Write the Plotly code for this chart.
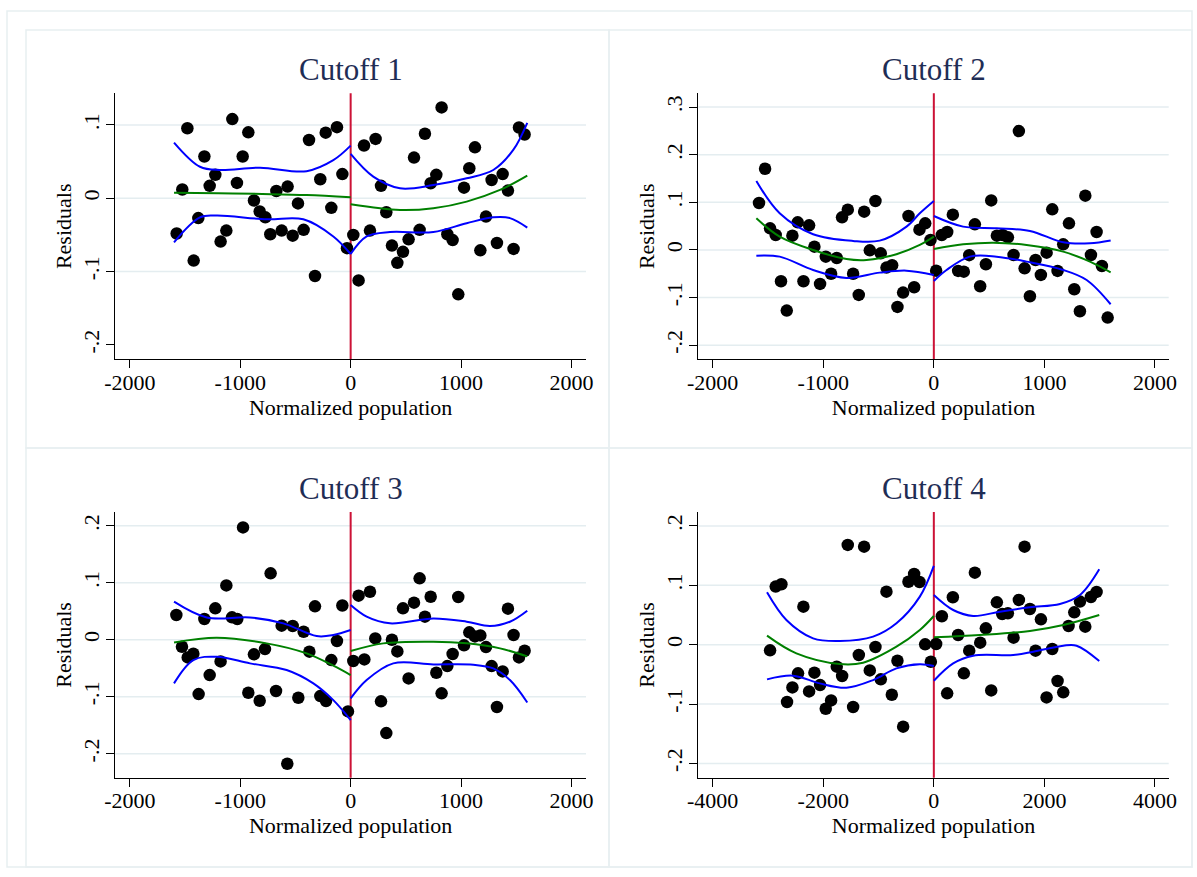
import plotly.graph_objects as go

# ---------------- data ----------------
titles = ["Cutoff 1", "Cutoff 2", "Cutoff 3", "Cutoff 4"]
x_title = "Normalized population"
y_title = "Residuals"

# Panel 1 (Cutoff 1)
p1_x = [-1576, -1525, -1479, -1422, -1380, -1325, -1277, -1226, -1178, -1126, -1072, -1030, -978, -927,
        -876, -824, -773, -728, -673, -625, -571, -525, -477, -426, -377, -323, -275, -226, -175, -124,
        -75, -33, 24, 72, 121, 175, 226, 275, 323, 374, 423, 474, 525, 574, 625, 673, 725, 776, 824,
        876, 924, 975, 1027, 1075, 1126, 1175, 1226, 1277, 1325, 1377, 1425, 1476, 1525, 1576]
p1_y = [-0.048, 0.012, 0.0955, -0.085, -0.027, 0.057, 0.017, 0.032, -0.059, -0.044, 0.108, 0.021, 0.057, 0.090,
        -0.003, -0.018, -0.026, -0.049, 0.010, -0.044, 0.016, -0.051, -0.007, -0.043, 0.0795, -0.106, 0.026, 0.0895, -0.013, 0.097,
        0.033, -0.068, -0.050, -0.112, 0.072, -0.044, 0.081, 0.017, -0.019, -0.0645, -0.088, -0.073, -0.056, 0.0555, -0.043, 0.088, 0.0205, 0.032, 0.124,
        -0.049, -0.057, -0.131, 0.0145, 0.041, 0.0695, -0.071, -0.025, 0.025, -0.061, 0.033, 0.0105, -0.069, 0.0965, 0.087]
p1_fit_L = [(-1600, 0.0077), (-1200, 0.0068), (-800, 0.0059), (-400, 0.0045), (0, 0.0014)]
p1_fit_R = [(0, -0.0082), (447, -0.016), (749, -0.0136), (1051, -0.0045), (1353, 0.0114), (1600, 0.031)]
p1_up_L = [(-1600, 0.076), (-1365, 0.043), (-1184, 0.0386), (-821, 0.0418), (-399, 0.037), (-157, 0.052), (0, 0.0718)]
p1_lo_L = [(-1600, -0.060), (-1365, -0.026), (-1214, -0.0236), (-761, -0.0286), (-429, -0.0286), (-157, -0.052), (0, -0.076)]
p1_up_R = [(0, 0.0605), (205, 0.0295), (447, 0.0136), (749, 0.018), (1051, 0.0273), (1292, 0.0386), (1473, 0.066), (1600, 0.103)]
p1_lo_R = [(0, -0.076), (145, -0.052), (356, -0.046), (749, -0.046), (1051, -0.034), (1292, -0.026), (1443, -0.027), (1600, -0.040)]

# Panel 2 (Cutoff 2)
p2_x = [-1581, -1526, -1481, -1430, -1382, -1330, -1279, -1231, -1179, -1128, -1080, -1029, -977, -929,
        -878, -830, -778, -730, -679, -630, -579, -528, -480, -428, -377, -329, -278, -229, -178, -130,
        -78, -30, 21, 72, 121, 172, 220, 271, 320, 371, 419, 471, 519, 570, 621, 670, 721, 769, 821,
        869, 920, 968, 1020, 1071, 1119, 1170, 1222, 1270, 1321, 1370, 1421, 1472, 1520, 1572]
p2_y = [0.0986, 0.1706, 0.0455, 0.0315, -0.0657, -0.1273, 0.030, 0.058, -0.0657, 0.0517, 0.007, -0.0713, -0.014, -0.050,
        -0.0168, 0.0685, 0.0846, -0.050, -0.0944, 0.0804, -0.0007, 0.1028, -0.007, -0.037, -0.032, -0.1196, -0.0895, 0.0713, -0.0783, 0.0427,
        0.056, 0.021, -0.0434, 0.0315, 0.0378, 0.0741, -0.044, -0.0455, -0.011, 0.0538, -0.0762, -0.030, 0.104, 0.030, 0.0315, 0.0266, -0.0105, 0.2497, -0.0385,
        -0.0972, -0.021, -0.0524, -0.0056, 0.0853, -0.044, 0.0119, 0.056, -0.0825, -0.1287, 0.114, -0.0105, 0.0378, -0.0336, -0.142]
p2_fit_L = [(-1605, 0.0664), (-1394, 0.028), (-1092, 0.0), (-790, -0.019), (-609, -0.021), (-338, -0.009), (-127, 0.0105), (0, 0.028)]
p2_fit_R = [(0, 0.002), (265, 0.0119), (537, 0.0154), (839, 0.0105), (1170, -0.0035), (1412, -0.0245), (1599, -0.047)]
p2_up_L = [(-1605, 0.1448), (-1394, 0.077), (-1092, 0.033), (-730, 0.019), (-489, 0.0196), (-247, 0.049), (-127, 0.077), (0, 0.1028)]
p2_lo_L = [(-1605, -0.0119), (-1394, -0.014), (-1092, -0.042), (-790, -0.0587), (-489, -0.0476), (-247, -0.0434), (0, -0.0524)]
p2_up_R = [(0, 0.0713), (265, 0.049), (567, 0.0455), (869, 0.040), (1170, 0.016), (1412, 0.014), (1599, 0.020)]
p2_lo_R = [(0, -0.065), (115, -0.042), (326, -0.014), (567, -0.014), (839, -0.0245), (1170, -0.042), (1382, -0.063), (1599, -0.114)]

# Panel 3 (Cutoff 3)
p3_x = [-1579, -1528, -1476, -1425, -1377, -1325, -1277, -1226, -1178, -1126, -1075, -1027, -975, -927,
        -876, -824, -776, -725, -676, -625, -574, -525, -474, -426, -374, -323, -275, -223, -175, -124,
        -75, -24, 24, 72, 124, 175, 223, 275, 323, 374, 423, 474, 525, 574, 625, 673, 725, 776, 824,
        876, 924, 975, 1027, 1075, 1126, 1175, 1226, 1277, 1325, 1377, 1425, 1476, 1525, 1576]
p3_y = [0.0433, -0.0123, -0.031, -0.0246, -0.0953, 0.0363, -0.062, 0.055, -0.038, 0.0953, 0.0392, 0.0363, 0.197, -0.093,
        -0.0257, -0.107, -0.0164, 0.1164, -0.090, 0.0246, -0.2175, 0.024, -0.1018, 0.014, -0.021, 0.0585, -0.0988, -0.1076, -0.0357, -0.0023,
        0.060, -0.1257, -0.0374, 0.0772, -0.0345, 0.0842, 0.0023, -0.108, -0.1637, 0.0, -0.0205, 0.055, -0.0678, 0.065, 0.1076, 0.0404, 0.0754, -0.0579, -0.094,
        -0.0462, -0.0251, 0.0749, -0.0099, 0.0129, 0.0058, 0.0076, -0.0129, -0.0462, -0.118, -0.0556, 0.0544, 0.0082, -0.031, -0.0193]
p3_fit_L = [(-1600, -0.0047), (-1214, 0.0035), (-761, -0.0064), (-399, -0.024), (-157, -0.0456), (0, -0.062)]
p3_fit_R = [(0, -0.0199), (296, -0.0064), (749, -0.0035), (1051, -0.0064), (1353, -0.0152), (1600, -0.0292)]
p3_up_L = [(-1600, 0.0667), (-1304, 0.039), (-912, 0.039), (-610, 0.0287), (-308, 0.0064), (-157, 0.0082), (0, 0.017)]
p3_lo_L = [(-1600, -0.0766), (-1425, -0.0357), (-1214, -0.0298), (-912, -0.0415), (-580, -0.0532), (-338, -0.0766), (-157, -0.106), (0, -0.141)]
p3_up_R = [(0, 0.0608), (145, 0.0404), (356, 0.0287), (749, 0.0374), (1051, 0.0316), (1262, 0.024), (1443, 0.0316), (1600, 0.0509)]
p3_lo_R = [(0, -0.103), (145, -0.0708), (386, -0.0415), (749, -0.0433), (1111, -0.0439), (1292, -0.0503), (1443, -0.0708), (1600, -0.110)]

# Panel 4 (Cutoff 4)
p4_x = [-2962, -2860, -2757, -2655, -2558, -2456, -2359, -2256, -2160, -2057, -1955, -1858, -1756, -1659,
        -1557, -1460, -1357, -1261, -1158, -1056, -959, -857, -760, -658, -555, -459, -356, -259, -157, -54,
        42, 145, 241, 344, 440, 543, 640, 742, 839, 941, 1038, 1140, 1237, 1339, 1442, 1538, 1641, 1738,
        1840, 1937, 2039, 2142, 2238, 2341, 2437, 2540, 2643, 2739, 2842, 2944]
p4_y = [-0.0096, 0.0978, 0.1017, -0.0966, -0.072, -0.0483, 0.064, -0.0787, -0.0472, -0.068, -0.1079, -0.0938, -0.0371, -0.0528,
        0.168, -0.105, -0.0174, 0.165, -0.0433, -0.0039, -0.0584, 0.0893, -0.0843, -0.027, -0.138, 0.106, 0.119, 0.1056, 0.0006, -0.0287,
        0.0011, 0.0478, -0.082, 0.0798, 0.0163, -0.0483, -0.0101, 0.1213, 0.0034, 0.0275, -0.077, 0.0713, 0.0517, 0.0528, 0.0118, 0.0753, 0.165, 0.060,
        -0.0101, 0.0427, -0.0888, -0.0073, -0.0612, -0.0803, 0.0315, 0.0545, 0.0725, 0.0303, 0.0803, 0.0888]
p4_fit_L = [(-3017, 0.0152), (-2486, -0.0146), (-1701, -0.0326), (-1279, -0.0303), (-676, -0.0034), (-253, 0.0247), (0, 0.0483)]
p4_fit_R = [(0, 0.0124), (833, 0.0163), (1738, 0.023), (2341, 0.0331), (2992, 0.050)]
p4_up_L = [(-3017, 0.0882), (-2667, 0.0416), (-2184, 0.0107), (-1701, 0.0062), (-1098, 0.0135), (-676, 0.036), (-253, 0.0809), (0, 0.1326)]
p4_lo_L = [(-3017, -0.0584), (-2546, -0.0522), (-2063, -0.0652), (-1581, -0.0725), (-1098, -0.0596), (-676, -0.0399), (-253, -0.0331), (0, -0.036)]
p4_up_R = [(0, 0.0837), (350, 0.0584), (712, 0.0483), (1195, 0.0556), (1738, 0.0629), (2281, 0.0685), (2643, 0.0837), (2992, 0.127)]
p4_lo_R = [(0, -0.0607), (350, -0.0315), (712, -0.0185), (1436, -0.0174), (1798, -0.0118), (2341, -0.0017), (2582, -0.0017), (2992, -0.0275)]

# tick labels
x_ticks_a = [-2000, -1000, 0, 1000, 2000]
x_ticks_b = [-4000, -2000, 0, 2000, 4000]
y_ticks_1 = [-0.2, -0.1, 0, 0.1]
y_text_1 = ["-.2", "-.1", "0", ".1"]
y_ticks_2 = [-0.2, -0.1, 0, 0.1, 0.2, 0.3]
y_text_2 = ["-.2", "-.1", "0", ".1", ".2", ".3"]
y_ticks_3 = [-0.2, -0.1, 0, 0.1, 0.2]
y_text_3 = ["-.2", "-.1", "0", ".1", ".2"]
grid_1 = [-0.1, 0, 0.1]
grid_2 = y_ticks_2
grid_3 = y_ticks_3
grid_4 = y_ticks_3

# ---------------- styling / layout ----------------
W, H = 1197, 877
FONT = "Liberation Serif"
TITLE_COLOR = "#1f2d55"
BORDER = "#e7eff1"
GRID = "#e4edf0"
RED = "#cc1236"
BLUE = "#0000ff"
GREEN = "#008000"


def px_x(v):
    return v / W


def px_y(v):
    return 1 - v / H


panels = [
    dict(pts=(p1_x, p1_y), curves=(p1_fit_L, p1_fit_R, p1_up_L, p1_lo_L, p1_up_R, p1_lo_R),
         xr=[-2132, 2132], yr=[-0.2196, 0.1432], xt=x_ticks_a, yt=y_ticks_1, ytt=y_text_1, grid=grid_1,
         box=(115.3, 586.0, 93.3, 359.3)),
    dict(pts=(p2_x, p2_y), curves=(p2_fit_L, p2_fit_R, p2_up_L, p2_lo_L, p2_up_R, p2_lo_R),
         xr=[-2130, 2124], yr=[-0.2296, 0.329], xt=x_ticks_a, yt=y_ticks_2, ytt=y_text_2, grid=grid_2,
         box=(698.3, 1168.7, 93.3, 359.3)),
    dict(pts=(p3_x, p3_y), curves=(p3_fit_L, p3_fit_R, p3_up_L, p3_lo_L, p3_up_R, p3_lo_R),
         xr=[-2132, 2132], yr=[-0.242, 0.224], xt=x_ticks_a, yt=y_ticks_3, ytt=y_text_3, grid=grid_3,
         box=(115.3, 586.0, 512.0, 777.7)),
    dict(pts=(p4_x, p4_y), curves=(p4_fit_L, p4_fit_R, p4_up_L, p4_lo_L, p4_up_R, p4_lo_R),
         xr=[-4260, 4248], yr=[-0.224, 0.2234], xt=x_ticks_b, yt=y_ticks_3, ytt=y_text_3, grid=grid_4,
         box=(698.3, 1168.7, 512.0, 777.7)),
]

fig = go.Figure()
shapes = []
annotations = []
layout = {}

for i, p in enumerate(panels):
    n = "" if i == 0 else str(i + 1)
    xa, ya = "x" + n, "y" + n
    x0, x1, y0, y1 = p["box"]

    # scatter of residuals
    fig.add_trace(go.Scatter(x=p["pts"][0], y=p["pts"][1], mode="markers", xaxis=xa, yaxis=ya,
                             marker=dict(color="black", size=12.5, line=dict(width=0)),
                             showlegend=False, hoverinfo="x+y"))
    # fitted line and confidence bands
    colors = [GREEN, GREEN, BLUE, BLUE, BLUE, BLUE]
    for curve, col in zip(p["curves"], colors):
        fig.add_trace(go.Scatter(x=[c[0] for c in curve], y=[c[1] for c in curve], mode="lines",
                                 line=dict(color=col, width=2, shape="spline", smoothing=1.0),
                                 xaxis=xa, yaxis=ya, showlegend=False, hoverinfo="skip"))

    axis_common = dict(showline=True, linecolor="black", linewidth=1.3, ticks="outside", ticklen=8,
                       tickwidth=1.2, tickcolor="black", showgrid=False, zeroline=False, automargin=False,
                       tickfont=dict(family=FONT, size=22, color="black"), fixedrange=True)
    layout["xaxis" + n] = dict(axis_common, domain=[px_x(x0), px_x(x1)], range=p["xr"], anchor=ya,
                               tickvals=p["xt"], ticktext=[str(v) for v in p["xt"]], ticklabelstandoff=-5,
                               title=dict(text=x_title, font=dict(family=FONT, size=22, color="black"),
                                          standoff=0))
    layout["yaxis" + n] = dict(axis_common, domain=[px_y(y1), px_y(y0)], range=p["yr"], anchor=xa,
                               tickvals=p["yt"], ticktext=p["ytt"], tickangle=-90, ticklabelstandoff=-2,
                               title=dict(text=y_title, font=dict(family=FONT, size=22, color="black"),
                                          standoff=1))
    # grid lines
    for g in p["grid"]:
        shapes.append(dict(type="line", xref=xa + " domain", yref=ya, x0=0, x1=1, y0=g, y1=g,
                           line=dict(color=GRID, width=1.5), layer="below"))
    # cutoff line at 0
    shapes.append(dict(type="line", xref=xa, yref=ya + " domain", x0=0, x1=0, y0=0, y1=1,
                       line=dict(color=RED, width=2), layer="below"))
    # title
    annotations.append(dict(text=titles[i], xref="paper", yref="paper", x=px_x((x0 + x1) / 2),
                            y=px_y(y0 - 24), xanchor="center", yanchor="middle", showarrow=False,
                            font=dict(family=FONT, size=31, color=TITLE_COLOR)))

# panel borders and outer border
for (bx0, by0, bx1, by1) in [(26, 30, 609, 448), (609, 30, 1192, 448), (26, 448, 609, 867),
                             (609, 448, 1192, 867), (7, 11, 1192, 867)]:
    shapes.append(dict(type="rect", xref="paper", yref="paper", x0=px_x(bx0), x1=px_x(bx1),
                       y0=px_y(by1), y1=px_y(by0), line=dict(color=BORDER, width=1.5), layer="below"))

fig.update_layout(width=W, height=H, margin=dict(l=0, r=0, t=0, b=0), paper_bgcolor="white",
                  plot_bgcolor="white", showlegend=False, shapes=shapes, annotations=annotations,
                  font=dict(family=FONT), **layout)

fig.write_html("out.html", config={"displayModeBar": False},
               post_script="document.body.style.margin='0';document.body.style.overflow='hidden';")
